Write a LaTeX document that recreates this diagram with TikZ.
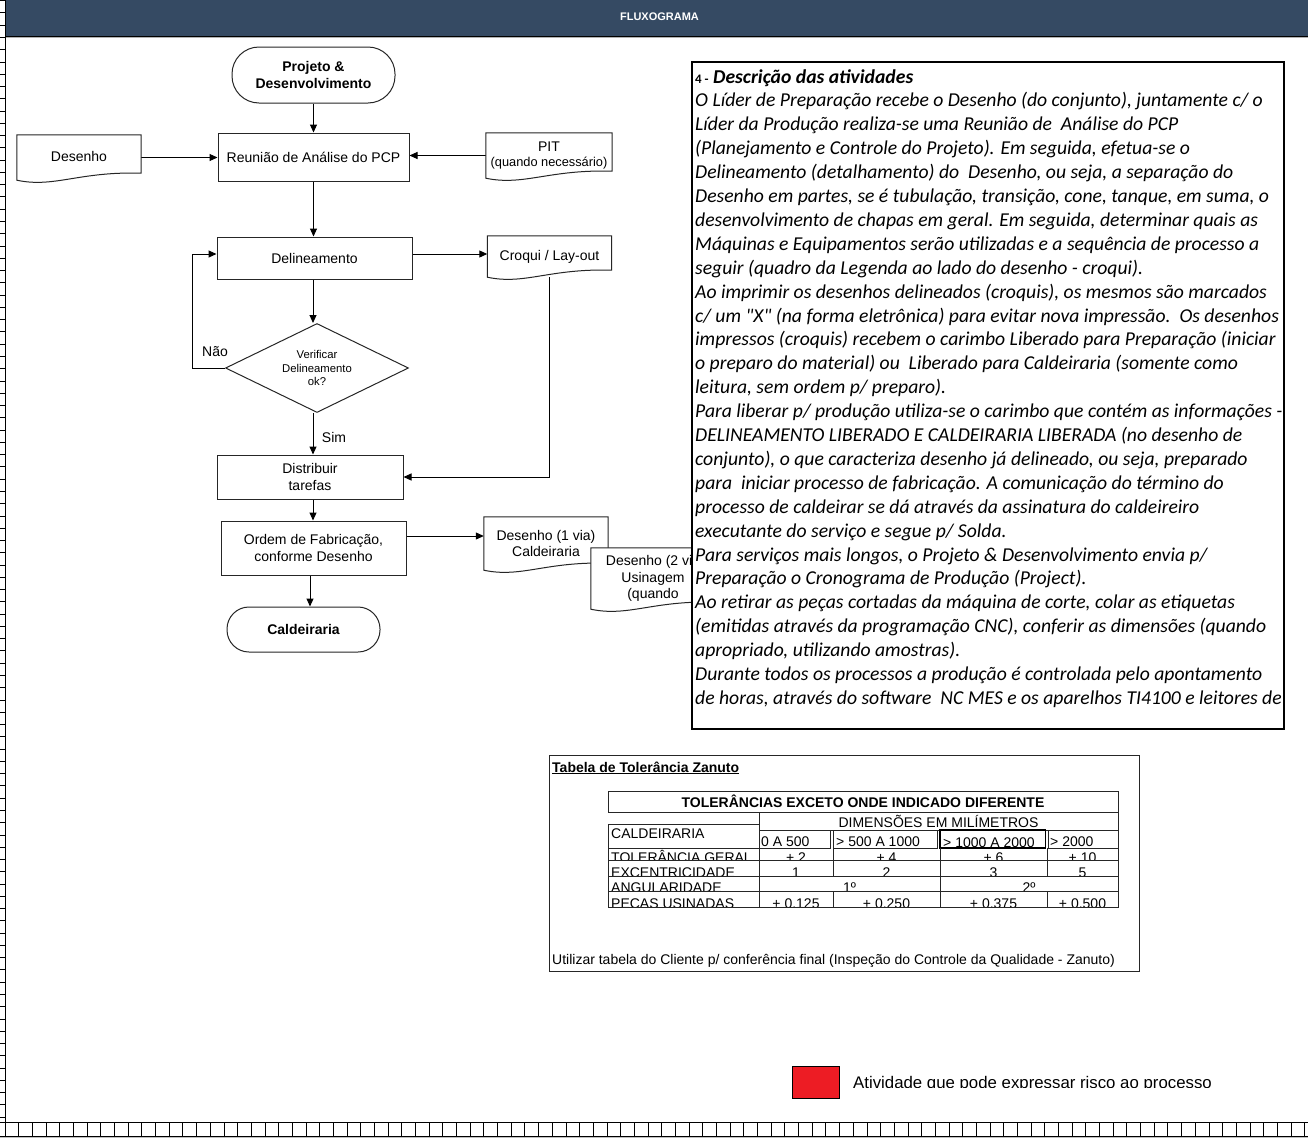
\documentclass[tikz,border=0pt]{standalone}
\usepackage{fontspec}
\setmainfont{Liberation Sans}
\newfontfamily\calib{Carlito}
\usetikzlibrary{shapes.geometric,arrows.meta,calc}
\pgfdeclarelayer{back}\pgfdeclarelayer{bg}\pgfdeclarelayer{mid}
\pgfsetlayers{back,bg,mid,main}
\definecolor{hdr}{HTML}{354A63}
\definecolor{legred}{HTML}{ED1C24}
\newcommand\fs[2]{\fontsize{#1}{#2}\selectfont}
\tikzset{
 ln/.style={draw=black!85, line width=1pt},
 boxn/.style={rectangle, ln, fill=white, align=center, font=\fs{14}{16.5}, inner sep=0},
 termn/.style={boxn, font=\bfseries\fs{14}{16.5}},
 docn/.style={rectangle, align=center, font=\fs{14}{16.5}, inner sep=0},
 conn/.style={draw=black, line width=1pt, -{Triangle[length=8pt,width=7pt]}},
 lbl/.style={font=\fs{14}{16.5}, inner sep=0},
 tline/.style={anchor=base west, inner sep=0, font=\calib\itshape\fs{19.65}{23}},
 cellw/.style={anchor=base west, inner sep=0, font=\fs{14}{16}},
 cellc/.style={anchor=base, inner sep=0, font=\fs{14}{16}},
 tl/.style={draw=black!85, line width=0.9pt},
}
\newcommand\docoutline[1]{%
 \begin{pgfonlayer}{mid}
 \draw[ln, fill=white] (#1.south west) -- (#1.north west) -- (#1.north east) -- ($(#1.south east)+(0,-7)$)
  .. controls ($(#1.south east)!0.5!(#1.south west)+(0,-9)$) and ($(#1.south east)!0.7!(#1.south west)+(0,8)$) .. (#1.south west) -- cycle;
 \end{pgfonlayer}}
\newcommand\txl[2]{\node[tline] (tl#1) at (695,{83+23.9*(#1-1)}) {#2};}
\begin{document}
\begin{tikzpicture}[x=1pt,y=-1pt]
\useasboundingbox (0,0) rectangle (1308,1138);
\begin{pgfonlayer}{back}
\fill[white] (0,0) rectangle (1308,1138);
\end{pgfonlayer}
% header
\fill[hdr] (5.5,0) rectangle (1308,36);
\draw[black, line width=1pt] (5.5,36) -- (1308,36);
\draw[black!30, line width=0.8pt] (5.5,37.3) -- (1308,37.3);
\node[font=\bfseries\fs{11}{13}, text=white, inner sep=0] (hdrt) at (659.5,17) {FLUXOGRAMA};
% left ruler
\draw[black, line width=0.8pt] (5.5,0) -- (5.5,1122.7);
\foreach \k in {0,...,91} \draw[black, line width=0.7pt] (0,{0.5+12.27*\k}) -- (5.5,{0.5+12.27*\k});
% bottom ruler
\fill[black!25] (0,1136.5) rectangle (1308,1138);
\draw[black, line width=0.8pt] (0,1122.7) -- (1308,1122.7);
\draw[black, line width=0.8pt] (0,1136.5) -- (1308,1136.5);
\foreach \k in {0,...,95} \draw[black, line width=0.7pt] ({5+13.68*\k},1122.7) -- ({5+13.68*\k},1136.5);

% flowchart nodes
\node[termn, rounded corners=27pt, minimum width=163, minimum height=56] (proj) at (313.5,75) {Projeto \&\\Desenvolvimento};
\node[boxn, minimum width=191, minimum height=48] (reun) at (313.5,157) {Reunião de Análise do PCP};
\node[docn, minimum width=124, minimum height=45] (des) at (79,157.5) {\raisebox{2pt}{Desenho}};
\node[docn, minimum width=126, minimum height=45] (pit) at (549,155.5) {PIT\\[-2pt]{\fs{12.8}{15}(quando necessário)}};
\node[boxn, minimum width=195, minimum height=42] (deli) at (314.5,258) {Delineamento};
\node[docn, minimum width=124, minimum height=41] (croq) at (549.5,256.5) {\raisebox{3pt}{Croqui / Lay-out}};
\node[diamond, ln, fill=white, aspect=2.05, minimum width=183, minimum height=89, inner sep=0, align=center, font=\fs{11.3}{13.5}] (diam) at (317,368) {Verificar\\Delineamento\\ok?};
\node[boxn, minimum width=186, minimum height=44] (dist) at (310,477) {Distribuir\\tarefas};
\node[boxn, minimum width=185, minimum height=54] (ordem) at (313.5,548) {Ordem de Fabricação,\\conforme Desenho};
\node[docn, minimum width=124, minimum height=53] (d1) at (546,543.5) {Desenho (1 via)\\Caldeiraria};
\node[docn, minimum width=124, minimum height=61] (d2) at (653,578.5) {Desenho (2 via\\Usinagem\\(quando};
\node[termn, rounded corners=22pt, minimum width=153, minimum height=45] (cald) at (303.5,629.5) {Caldeiraria};
\node[lbl] (nao) at (215,352) {Não};
\node[lbl] (sim) at (334,437) {Sim};
\docoutline{des}
\docoutline{pit}
\docoutline{croq}
\docoutline{d1}
\docoutline{d2}

% connectors
\begin{pgfonlayer}{bg}
\draw[conn] (proj.south) -- (proj.south |- reun.north);
\draw[conn] (des.east) -- (des.east -| reun.west);
\draw[conn] (pit.west) -- (pit.west -| reun.east);
\draw[conn] (reun.south) -- (reun.south |- deli.north);
\draw[conn] ([yshift=4pt]deli.east) -- ([yshift=4pt]deli.east -| croq.west);
\draw[conn] ([xshift=-1.5pt]deli.south) -- ([xshift=-1.5pt]deli.south |- diam.north);
\draw[conn] (diam.west) -- ++(-33,0) |- ([yshift=4pt]deli.west);
\draw[conn] ([xshift=-4pt]diam.south) -- ([xshift=-4pt]diam.south |- dist.north);
\draw[conn] (croq.south) |- (dist.east);
\draw[conn] ([xshift=3pt]dist.south) -- ([xshift=3pt]dist.south |- ordem.north);
\draw[conn] ([yshift=12pt]ordem.east) -- ([yshift=12pt]ordem.east -| d1.west);
\draw[conn] ([xshift=-3.5pt]ordem.south) -- ([xshift=-3.5pt]ordem.south |- cald.north);
\end{pgfonlayer}

% description box
\node[draw=black, line width=2pt, fill=white, minimum width=592, minimum height=667, inner sep=0] (desc) at (988,395.5) {};
\begin{scope}
\clip (693,63) rectangle (1283,728);
\txl{1}{{\bfseries\upshape\fs{13}{15}4 -} {\bfseries Descrição das atividades}}
\txl{2}{O Líder de Preparação recebe o Desenho (do conjunto), juntamente c/ o}
\txl{3}{Líder da Produção realiza-se uma Reunião de\ \ Análise do PCP}
\txl{4}{(Planejamento e Controle do Projeto). Em seguida, efetua-se o}
\txl{5}{Delineamento (detalhamento) do\ \ Desenho, ou seja, a separação do}
\txl{6}{Desenho em partes, se é tubulação, transição, cone, tanque, em suma, o}
\txl{7}{desenvolvimento de chapas em geral. Em seguida, determinar quais as}
\txl{8}{Máquinas e Equipamentos serão utilizadas e a sequência de processo a}
\txl{9}{seguir (quadro da Legenda ao lado do desenho - croqui).}
\txl{10}{Ao imprimir os desenhos delineados (croquis), os mesmos são marcados}
\txl{11}{c/ um "X" (na forma eletrônica) para evitar nova impressão.\ \ Os desenhos}
\txl{12}{impressos (croquis) recebem o carimbo Liberado para Preparação (iniciar}
\txl{13}{o preparo do material) ou\ \ Liberado para Caldeiraria (somente como}
\txl{14}{leitura, sem ordem p/ preparo).}
\txl{15}{Para liberar p/ produção utiliza-se o carimbo que contém as informações -}
\txl{16}{DELINEAMENTO LIBERADO E CALDEIRARIA LIBERADA (no desenho de}
\txl{17}{conjunto), o que caracteriza desenho já delineado, ou seja, preparado}
\txl{18}{para\ \ iniciar processo de fabricação. A comunicação do término do}
\txl{19}{processo de caldeirar se dá através da assinatura do caldeireiro}
\txl{20}{executante do serviço e segue p/ Solda.}
\txl{21}{Para serviços mais longos, o Projeto \& Desenvolvimento envia p/}
\txl{22}{Preparação o Cronograma de Produção (Project).}
\txl{23}{Ao retirar as peças cortadas da máquina de corte, colar as etiquetas}
\txl{24}{(emitidas através da programação CNC), conferir as dimensões (quando}
\txl{25}{apropriado, utilizando amostras).}
\txl{26}{Durante todos os processos a produção é controlada pelo apontamento}
\txl{27}{de horas, através do software\ \ NC MES e os aparelhos TI4100 e leitores de}
\end{scope}

% tolerance table
\draw[ln] (549,755) rectangle (1139,971);
\node[anchor=base west, inner sep=0, font=\bfseries\fs{14}{16}] (ttl) at (552,772) {\underline{Tabela de Tolerância Zanuto}};
\draw[tl] (608,791) rectangle (1118,812);
\node[cellc, font=\bfseries\fs{14}{16}] (tth) at (863,807) {TOLERÂNCIAS EXCETO ONDE INDICADO DIFERENTE};
\draw[tl] (759,812) rectangle (1118,830);
\node[cellc] (tdim) at (938.5,827) {DIMENSÕES EM MILÍMETROS};
\draw[tl] (608,824) rectangle (759,848);
\node[cellw] (tcal) at (611,838) {CALDEIRARIA};
\draw[tl] (759,830) rectangle (830.5,848);
\draw[tl] (833,830) rectangle (937.5,848);
\draw[draw=black, line width=1.3pt] (940,830) rectangle (1045.5,848);
\draw[tl] (1048,830) rectangle (1118,848);
\node[cellw] (th1) at (761,846) {0 A 500};
\node[cellw] (th2) at (836,846) {> 500 A 1000};
\node[cellw] (th3) at (943,847) {> 1000 A 2000};
\node[cellw] (th4) at (1050,846) {> 2000};
% data rows
\begin{scope}
\clip (608,848) rectangle (1118,860);
\node[cellw] (r1l) at (611,862) {TOLERÂNCIA GERAL};
\node[cellc] (r1a) at (796,862) {+ 2};
\node[cellc] (r1b) at (886.5,862) {+ 4};
\node[cellc] (r1c) at (993.5,862) {+ 6};
\node[cellc] (r1d) at (1082.5,862) {+ 10};
\end{scope}
\begin{scope}
\clip (608,860) rectangle (1118,876);
\node[cellw] (r2l) at (611,877.5) {EXCENTRICIDADE};
\node[cellc] (r2a) at (796,877.5) {1};
\node[cellc] (r2b) at (886.5,877.5) {2};
\node[cellc] (r2c) at (993.5,877.5) {3};
\node[cellc] (r2d) at (1082.5,877.5) {5};
\end{scope}
\begin{scope}
\clip (608,876) rectangle (1118,891);
\node[cellw] (r3l) at (611,892.5) {ANGULARIDADE};
\node[cellc] (r3a) at (849.5,892.5) {1º};
\node[cellc] (r3b) at (1029,892.5) {2º};
\end{scope}
\begin{scope}
\clip (608,891) rectangle (1118,907);
\node[cellw] (r4l) at (611,908) {PEÇAS USINADAS};
\node[cellc] (r4a) at (796,908) {+ 0.125};
\node[cellc] (r4b) at (886.5,908) {+ 0.250};
\node[cellc] (r4c) at (993.5,908) {+ 0.375};
\node[cellc] (r4d) at (1082.5,908) {+ 0.500};
\end{scope}
\draw[tl] (608,848) -- (608,907) -- (1118,907) -- (1118,848);
\foreach \yy in {860,876,891} \draw[tl] (608,\yy) -- (1118,\yy);
\draw[tl] (759,848) -- (759,907);
\draw[tl] (940,848) -- (940,907);
\draw[tl] (833,848) -- (833,876);
\draw[tl] (833,891) -- (833,907);
\draw[tl] (1047,848) -- (1047,876);
\draw[tl] (1047,891) -- (1047,907);
\node[cellw] (tnote) at (552,964) {Utilizar tabela do Cliente p/ conferência final (Inspeção do Controle da Qualidade - Zanuto)};

% legend
\node[draw=black, line width=0.8pt, fill=legred, minimum width=47, minimum height=32, inner sep=0] (leg) at (815.5,1082) {};
\begin{scope}
\clip (845,1060) rectangle (1260,1087);
\node[anchor=base west, inner sep=0, font=\fs{16.8}{19}] (legt) at (853,1088) {Atividade que pode expressar risco ao processo};
\end{scope}
\end{tikzpicture}
\end{document}
